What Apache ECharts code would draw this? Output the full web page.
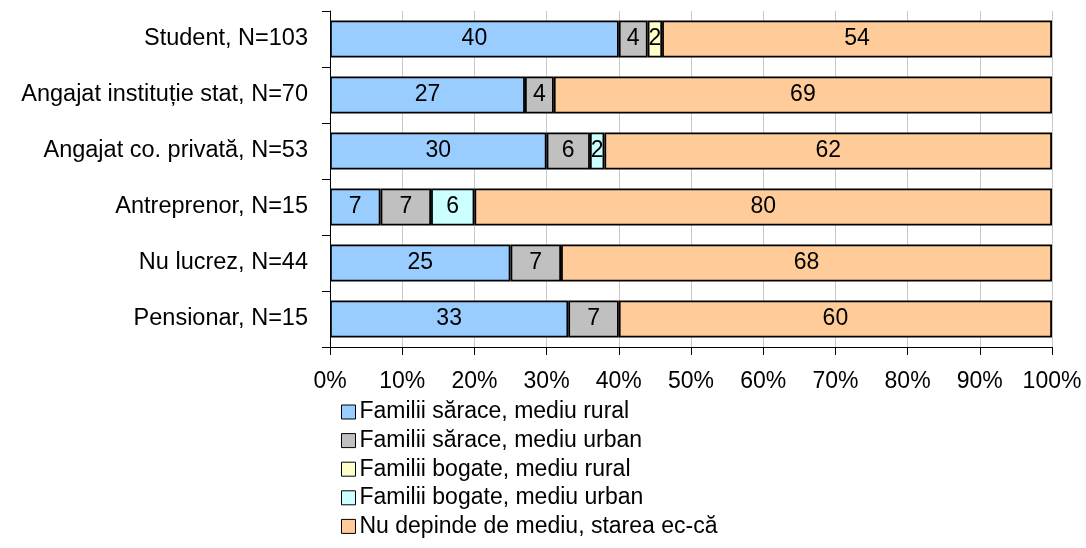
<!DOCTYPE html>
<html>
<head>
<meta charset="utf-8">
<script src="https://cdn.jsdelivr.net/npm/echarts@6/dist/echarts.min.js"></script>
<style>
  html, body { margin: 0; padding: 0; background: #fff; }
  #chart { width: 1086px; height: 548px; }
</style>
</head>
<body>
<div id="chart"></div>
<script>
  var categories = ['Student, N=103', 'Angajat instituție stat, N=70', 'Angajat co. privată, N=53', 'Antreprenor, N=15', 'Nu lucrez, N=44', 'Pensionar, N=15']
  var seriesNames = ['Familii sărace, mediu rural', 'Familii sărace, mediu urban', 'Familii bogate, mediu rural', 'Familii bogate, mediu urban', 'Nu depinde de mediu, starea ec-că']
  var saraceRural = [40, 27, 30, 7, 25, 33]
  var saraceUrban = [4, 4, 6, 7, 7, 7]
  var bogateRural = [2, 0, 0, 0, 0, 0]
  var bogateUrban = [0, 0, 2, 6, 0, 0]
  var nuDepinde = [54, 69, 62, 80, 68, 60]
  var colors = ['#99CCFF', '#C0C0C0', '#FFFFCC', '#CCFFFF', '#FFCC99']

  var chart = echarts.init(document.getElementById('chart'))
  var font = 'Liberation Sans, Arial, sans-serif'

  var series = [saraceRural, saraceUrban, bogateRural, bogateUrban, nuDepinde].map(function (vals, i) {
    return {
      name: seriesNames[i],
      type: 'bar',
      stack: 'total',
      barCategoryGap: '34%',
      data: vals.map(function (v) { return v === 0 ? '-' : v }),
      itemStyle: { color: colors[i], borderColor: '#000', borderWidth: 1.8 },
      label: {
        show: true,
        position: 'inside',
        color: '#000',
        fontSize: 23,
        fontFamily: font
      },
      emphasis: { disabled: true }
    }
  })

  var option = {
    animation: false,
    grid: { left: 330, right: 34, top: 11, bottom: 201 },
    xAxis: {
      type: 'value',
      min: 0,
      max: 100,
      interval: 10,
      axisLine: { show: true, lineStyle: { color: '#000', width: 1 } },
      axisTick: { show: true, length: 8, lineStyle: { color: '#000' } },
      axisLabel: { formatter: '{value}%', color: '#000', fontSize: 23, fontFamily: font, margin: 23 },
      splitLine: { show: true, lineStyle: { color: '#c8c8c8', width: 1 } }
    },
    yAxis: {
      type: 'category',
      inverse: true,
      data: categories,
      axisLine: { show: true, lineStyle: { color: '#000', width: 1 } },
      axisTick: { show: true, length: 8, lineStyle: { color: '#000' } },
      axisLabel: { color: '#000', fontSize: 23.5, fontFamily: font, margin: 22 }
    },
    legend: {
      orient: 'vertical',
      left: 336,
      top: 395,
      itemWidth: 14,
      itemHeight: 14,
      itemGap: 4.6,
      icon: 'rect',
      itemStyle: { borderColor: '#000', borderWidth: 1 },
      textStyle: { color: '#000', fontSize: 23, fontFamily: font, lineHeight: 24, padding: [0, 0, 0, -1] },
      data: seriesNames
    },
    series: series
  }
  chart.setOption(option)
</script>
</body>
</html>
